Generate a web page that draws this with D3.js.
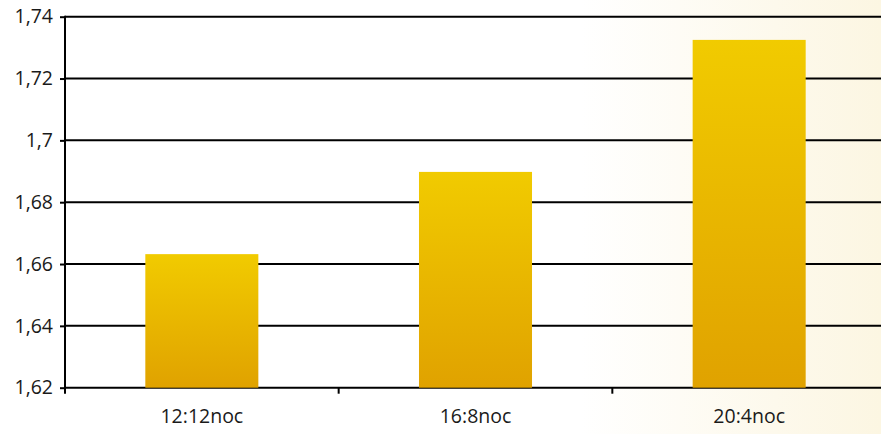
<!DOCTYPE html>
<html>
<head>
<meta charset="utf-8">
<script src="https://cdn.jsdelivr.net/npm/d3@7"></script>
<style>
  body { margin: 0; background: #fff; }
  svg text { font-family: "Open Sans", "Noto Sans", sans-serif; font-size: 19.5px; fill: #1a1a1a; }
</style>
</head>
<body>
<svg id="chart"></svg>
<script>
var categories = ["12:12noc", "16:8noc", "20:4noc"];
var values = [1.6632, 1.6898, 1.7325];
var yTicks = [1.62, 1.64, 1.66, 1.68, 1.70, 1.72, 1.74];

var w = 881, h = 434,
    plotLeft = 65, plotRight = 886,
    plotTop = 16.7, plotBottom = 387.7;

var svg = d3.select("#chart").attr("width", w).attr("height", h);

var defs = svg.append("defs");
var bg = defs.append("linearGradient").attr("id", "bg")
    .attr("x1", 0).attr("x2", 1).attr("y1", 0).attr("y2", 0);
bg.append("stop").attr("offset", "0.66").attr("stop-color", "#ffffff");
bg.append("stop").attr("offset", "0.88").attr("stop-color", "#fdf9ec");
bg.append("stop").attr("offset", "1").attr("stop-color", "#fcf6e2");

var barGrad = defs.append("linearGradient").attr("id", "barGrad")
    .attr("x1", 0).attr("x2", 0).attr("y1", 0).attr("y2", 1);
barGrad.append("stop").attr("offset", "0").attr("stop-color", "#f1cb00");
barGrad.append("stop").attr("offset", "1").attr("stop-color", "#e0a200");

svg.append("rect").attr("width", w).attr("height", h).attr("fill", "url(#bg)");

var x = d3.scaleBand().domain(categories).range([plotLeft, plotRight]).padding(0);
var y = d3.scaleLinear().domain([1.62, 1.74]).range([plotBottom, plotTop]);

var barW = x.bandwidth() * 0.413;

// gridlines
svg.append("g")
  .selectAll("line")
  .data(yTicks)
  .enter().append("line")
    .attr("x1", plotLeft)
    .attr("x2", w)
    .attr("y1", function(d) { return y(d); })
    .attr("y2", function(d) { return y(d); })
    .attr("stroke", "#000")
    .attr("stroke-width", 2);

svg.append("g")
  .selectAll("rect")
  .data(values)
  .enter().append("rect")
    .attr("x", function(d, i) { return x(categories[i]) + (x.bandwidth() - barW) / 2; })
    .attr("y", function(d) { return y(d); })
    .attr("width", barW)
    .attr("height", function(d) { return plotBottom - y(d); })
    .attr("fill", "url(#barGrad)");

// y axis
var yAxis = svg.append("g")
    .attr("transform", "translate(" + plotLeft + ",0)")
    .call(d3.axisLeft(y).tickValues(yTicks).tickSize(5).tickPadding(7)
      .tickFormat(function(d) { return d3.format(".2~f")(d).replace(".", ","); }));
yAxis.select(".domain").attr("stroke", "#000").attr("stroke-width", 2)
    .attr("d", "M0," + (plotTop - 1) + "V" + (plotBottom + 6));
yAxis.selectAll(".tick line").attr("stroke-width", 2);
yAxis.selectAll("text").attr("dy", "0.32em");

// x axis
var xAxis = svg.append("g")
    .attr("transform", "translate(0," + plotBottom + ")")
    .call(d3.axisBottom(x).tickSize(0).tickPadding(21));
xAxis.select(".domain").remove();
xAxis.selectAll("text").attr("dy", "0.71em");

svg.append("g")
  .selectAll("line")
  .data(categories.slice(1))
  .enter().append("line")
    .attr("x1", function(d) { return x(d); })
    .attr("x2", function(d) { return x(d); })
    .attr("y1", plotBottom)
    .attr("y2", plotBottom + 6)
    .attr("stroke", "#000")
    .attr("stroke-width", 2);
</script>
</body>
</html>
